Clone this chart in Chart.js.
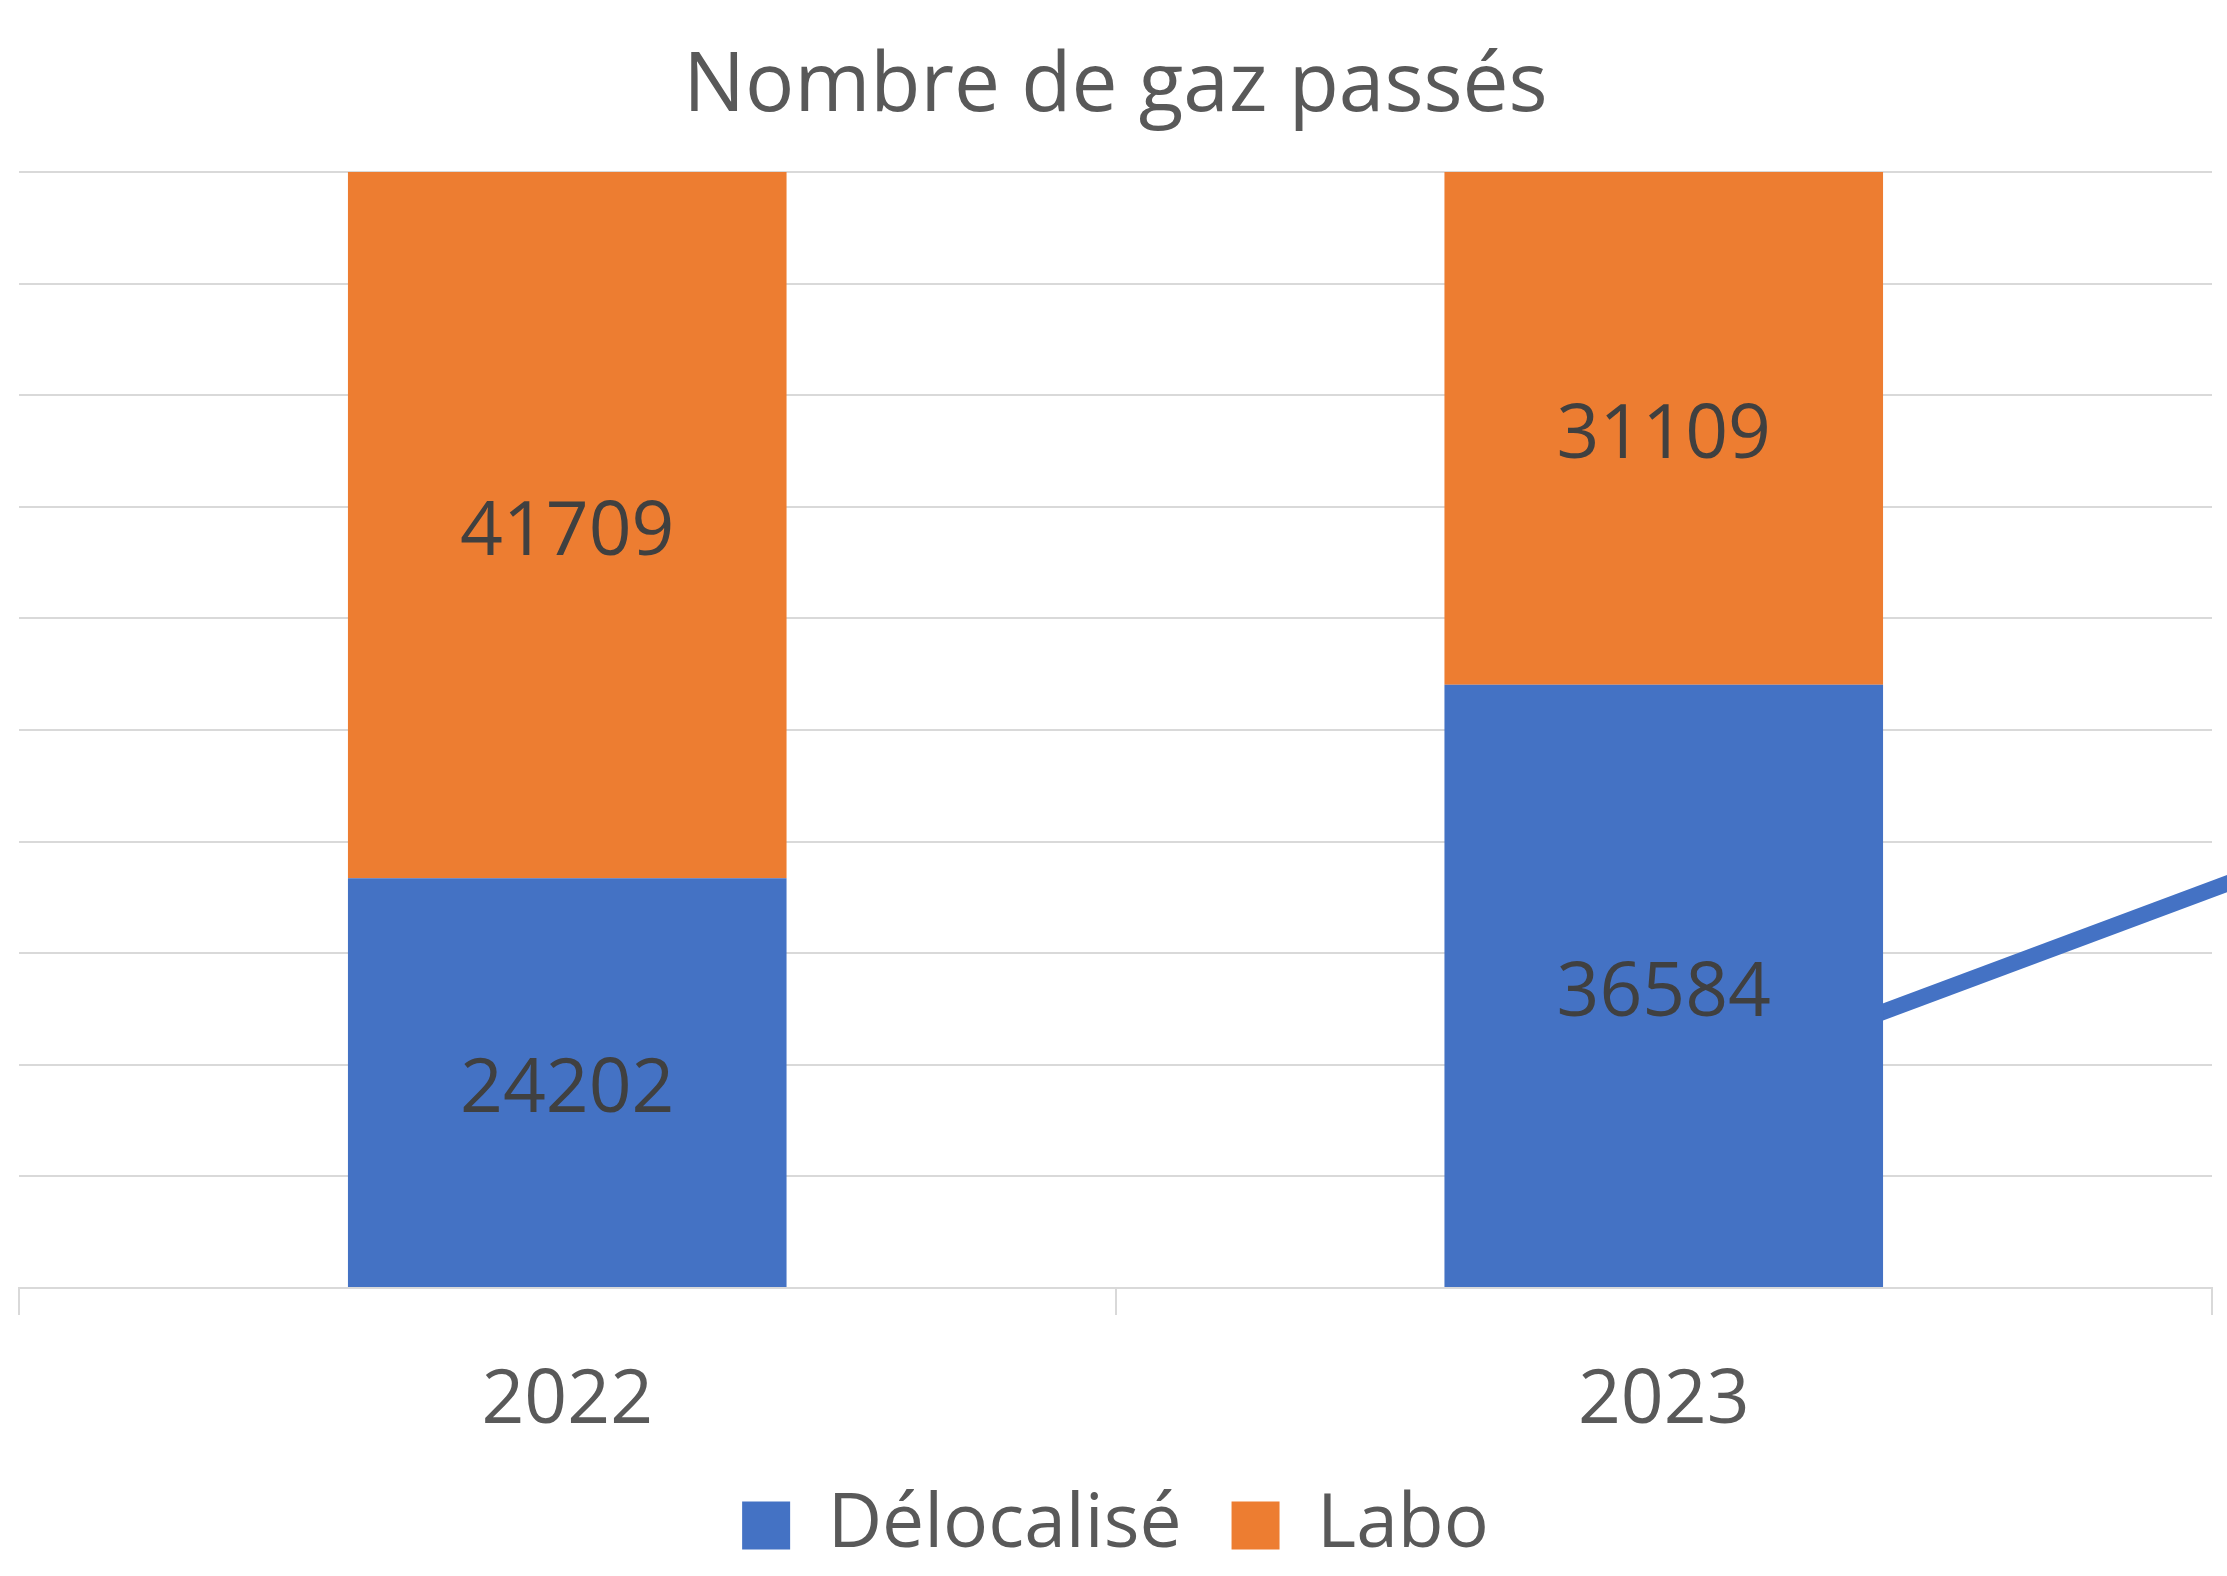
<!DOCTYPE html>
<html>
<head>
<meta charset="utf-8">
<script src="https://cdn.jsdelivr.net/npm/chart.js@4.4.1/dist/chart.umd.min.js"></script>
<style>
  html, body { margin: 0; padding: 0; background: #ffffff; }
  #wrap { width: 2227px; height: 1576px; }
</style>
</head>
<body>
<div id="wrap"><canvas id="c" width="2227" height="1576"></canvas></div>
<script>
// ---- data ----
const categories = ['2022', '2023'];
const delocalise = [24202, 36584];
const labo = [41709, 31109];
const seriesNames = ['Délocalisé', 'Labo'];
// decorative blue stroke on the right (x in category units, y in % of axis)
const strokeX = [1.0, 1.6];
const strokeY = [17.4, 39.4];

const totals = categories.map((_, i) => delocalise[i] + labo[i]);
const pctDeloc = delocalise.map((v, i) => v / totals[i] * 100);
const pctLabo = labo.map((v, i) => v / totals[i] * 100);
const rawValues = [delocalise, labo];

const FONT = "'Open Sans', 'Noto Sans', sans-serif";

const valueLabels = {
  id: 'valueLabels',
  afterDatasetsDraw(chart) {
    const ctx = chart.ctx;
    ctx.save();
    ctx.font = '75px ' + FONT;
    ctx.fillStyle = '#404040';
    ctx.textAlign = 'center';
    ctx.textBaseline = 'alphabetic';
    [0, 1].forEach(di => {
      const meta = chart.getDatasetMeta(di);
      meta.data.forEach((el, i) => {
        const cy = (el.y + el.base) / 2;
        ctx.fillText(String(rawValues[di][i]), el.x, cy + 0.714 * 75 / 2 + 3);
      });
    });
    ctx.restore();
  }
};

new Chart(document.getElementById('c'), {
  type: 'bar',
  data: {
    labels: categories,
    datasets: [
      {
        type: 'bar', label: seriesNames[0], data: pctDeloc,
        backgroundColor: '#4472C4', borderWidth: 0, stack: 's', grouped: false,
        barPercentage: 0.4, categoryPercentage: 1.0, order: 0,
        xAxisID: 'x', yAxisID: 'y'
      },
      {
        type: 'bar', label: seriesNames[1], data: pctLabo,
        backgroundColor: '#ED7D31', borderWidth: 0, stack: 's', grouped: false,
        barPercentage: 0.4, categoryPercentage: 1.0, order: 0,
        xAxisID: 'x', yAxisID: 'y'
      },
      {
        type: 'line', label: 'trait',
        data: strokeX.map((x, i) => ({ x: x, y: strokeY[i] })),
        borderColor: '#4472C4', borderWidth: 16, borderCapStyle: 'butt',
        pointRadius: 0, fill: false, clip: false, order: 10,
        xAxisID: 'xl', yAxisID: 'yl'
      }
    ]
  },
  options: {
    responsive: false,
    animation: false,
    devicePixelRatio: 1,
    layout: { padding: { left: 19, right: 15, top: 0, bottom: 3 } },
    plugins: {
      title: {
        display: true,
        text: 'Nombre de gaz passés',
        color: '#595959',
        font: { family: FONT, size: 82, weight: 'normal', lineHeight: 1.2 },
        padding: { top: 38.8, bottom: 34.8 }
      },
      legend: {
        display: true,
        position: 'bottom',
        labels: {
          color: '#595959',
          font: { family: FONT, size: 75 },
          boxWidth: 48, boxHeight: 48,
          padding: 50,
          filter: (item) => item.datasetIndex < 2
        }
      },
      tooltip: { enabled: false }
    },
    scales: {
      x: {
        type: 'category',
        stacked: true,
        offset: true,
        afterFit: (scale) => { scale.height = 150; },
        grid: {
          display: true, offset: true, drawOnChartArea: false,
          drawTicks: true, tickLength: 27, color: '#d9d9d9', lineWidth: 2
        },
        border: { display: true, color: '#d9d9d9', width: 2 },
        ticks: { color: '#595959', font: { family: FONT, size: 75 }, padding: 42 }
      },
      y: {
        stacked: true,
        min: 0, max: 100,
        ticks: { display: false, stepSize: 10 },
        grid: { color: '#d9d9d9', lineWidth: 2, drawTicks: false },
        border: { display: false }
      },
      xl: { type: 'linear', display: false, offset: false, grid: { offset: false }, min: -0.5, max: 1.5 },
      yl: { type: 'linear', display: false, min: 0, max: 100 }
    }
  },
  plugins: [valueLabels]
});
</script>
</body>
</html>
